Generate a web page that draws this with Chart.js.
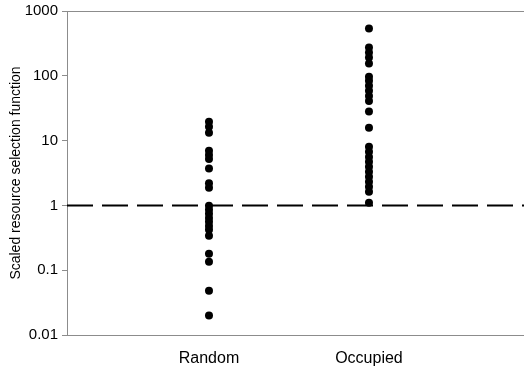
<!DOCTYPE html>
<html>
<head>
<meta charset="utf-8">
<script src="https://cdn.jsdelivr.net/npm/chart.js@4/dist/chart.umd.min.js"></script>
<style>
  html, body { margin: 0; padding: 0; background: #fff; overflow: hidden; }
  #wrap { width: 524px; height: 369px; }
</style>
</head>
<body>
<div id="wrap"><canvas id="rsfChart" width="524" height="369"></canvas></div>
<script>
// categories sit at x = 1 and x = 2 on a linear axis
const categories = ['Random', 'Occupied'];
const yTicks = [0.01, 0.1, 1, 10, 100, 1000];
const referenceLevel = 1;

// scaled RSF values
const randomValues = [19.6, 16.4, 13.2, 7.0, 6.0, 5.2, 3.7, 2.2, 1.87, 0.99, 0.86, 0.74,
                      0.64, 0.56, 0.48, 0.42, 0.34, 0.18, 0.135, 0.048, 0.020];
const occupiedValues = [537, 273, 228, 191, 155, 97, 84, 70, 59, 49, 41, 28, 15.8, 8.05,
                        6.7, 5.6, 4.7, 3.95, 3.3, 2.77, 2.32, 1.94, 1.62, 1.1];

const AXIS_GREY = '#8c8c8c';
const FONT = "'Liberation Sans', Arial, sans-serif";

function toPoints(values, pos) {
    return values.map(v => ({ x: pos, y: v }));
}

// no side padding on the horizontal axes, plot runs to the right edge
function flushSides(scale) {
    scale.paddingLeft = 0;
    scale.paddingRight = 0;
}

// dashed line at y = 1 across the whole plot
const refLine = {
    id: 'refLine',
    beforeDatasetsDraw(chart) {
        const { ctx, chartArea, scales } = chart;
        const y = scales.y.getPixelForValue(referenceLevel);
        ctx.save();
        ctx.strokeStyle = '#000';
        ctx.lineWidth = 2;
        ctx.setLineDash([26, 9]);
        ctx.beginPath();
        ctx.moveTo(chartArea.left, y);
        ctx.lineTo(chartArea.right, y);
        ctx.stroke();
        ctx.restore();
    }
};

const ctx = document.getElementById('rsfChart').getContext('2d');
new Chart(ctx, {
    type: 'scatter',
    data: {
        datasets: [
            {
                label: categories[0],
                data: toPoints(randomValues, 1),
                backgroundColor: '#000',
                borderColor: '#000',
                pointRadius: 4,
                pointHoverRadius: 4,
                borderWidth: 0
            },
            {
                label: categories[1],
                data: toPoints(occupiedValues, 2),
                backgroundColor: '#000',
                borderColor: '#000',
                pointRadius: 4,
                pointHoverRadius: 4,
                borderWidth: 0
            }
        ]
    },
    options: {
        responsive: false,
        animation: false,
        layout: { padding: 0, autoPadding: false },
        plugins: {
            legend: { display: false },
            tooltip: { enabled: false }
        },
        scales: {
            x: {
                type: 'linear',
                position: 'bottom',
                min: 0.1125,
                max: 2.969,
                grid: { display: false },
                border: { display: true, color: AXIS_GREY, width: 1 },
                afterBuildTicks: scale => {
                    scale.ticks = categories.map((c, i) => ({ value: i + 1 }));
                },
                afterFit: scale => { scale.height = 34; flushSides(scale); },
                ticks: {
                    padding: 6,
                    color: '#000',
                    font: { family: FONT, size: 16 },
                    maxRotation: 0,
                    callback: v => categories[v - 1] || ''
                }
            },
            xTop: {
                type: 'linear',
                position: 'top',
                min: 0.1125,
                max: 2.969,
                grid: { display: false },
                border: { display: true, color: AXIS_GREY, width: 1 },
                ticks: { display: false },
                afterFit: scale => { scale.height = 11; flushSides(scale); }
            },
            y: {
                type: 'logarithmic',
                min: 0.01,
                max: 1000,
                afterBuildTicks: scale => {
                    scale.ticks = yTicks.map(v => ({ value: v }));
                },
                afterFit: scale => {
                    scale.width = 67;
                    scale.paddingTop = 0;
                    scale.paddingBottom = 0;
                },
                grid: {
                    drawOnChartArea: false,
                    drawTicks: true,
                    tickLength: 5,
                    color: AXIS_GREY
                },
                border: { display: true, color: AXIS_GREY, width: 1 },
                ticks: {
                    padding: 4,
                    color: '#000',
                    font: { family: FONT, size: 15 },
                    callback: v => String(v)
                },
                title: {
                    display: true,
                    text: 'Scaled resource selection function',
                    color: '#000',
                    font: { family: FONT, size: 14 },
                    padding: { top: 8, bottom: 0 }
                }
            }
        }
    },
    plugins: [refLine]
});
</script>
</body>
</html>
